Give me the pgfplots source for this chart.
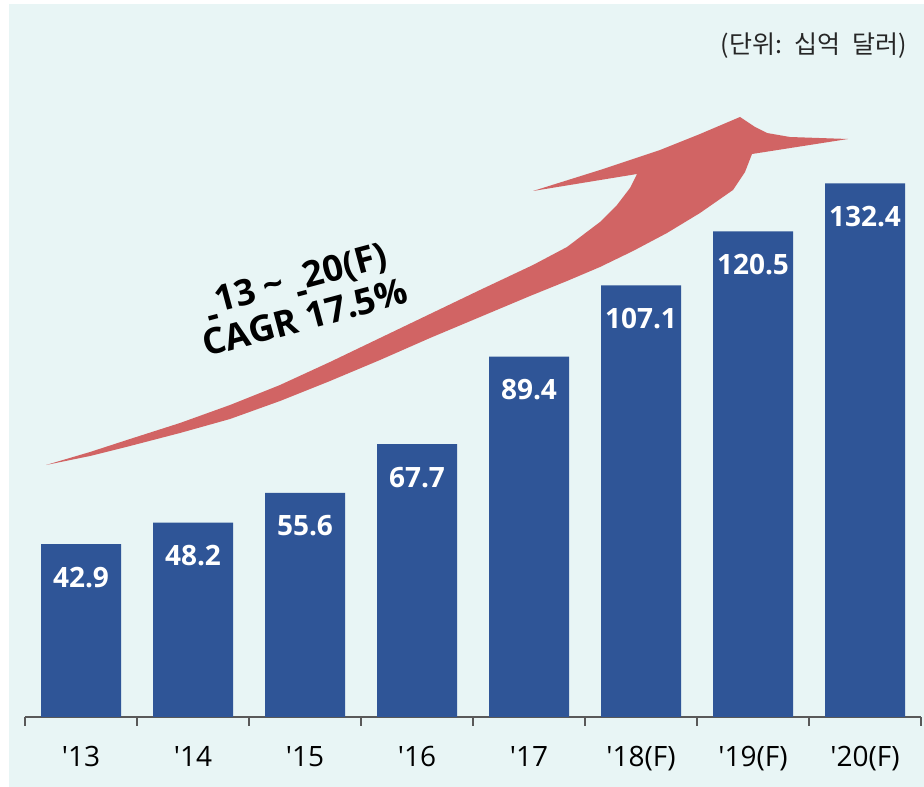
\documentclass[border=0pt]{standalone}
\usepackage{fontspec}
\setmainfont{Open Sans}
\newfontfamily\kr{Noto Sans CJK KR}
\usepackage{pgfplots}
\pgfplotsset{compat=1.18}
\definecolor{bg}{HTML}{E8F5F5}
\definecolor{barblue}{HTML}{2F5597}
\definecolor{arrowred}{HTML}{D16464}
\definecolor{axisgray}{HTML}{595959}
\begin{document}
\begin{tikzpicture}[x=1pt,y=1pt]
\path[use as bounding box] (0,0) rectangle (924,787);
\fill[white] (0,0) rectangle (924,787);
\fill[bg] (9,0) rectangle (924,783);
% overlay axis in pixel coordinates (arrow and texts)
\begin{axis}[at={(0pt,0pt)}, anchor=south west, scale only axis,
  width=924pt, height=787pt, xmin=0, xmax=924, ymin=0, ymax=787,
  y dir=reverse, hide axis, clip=false]
\addplot[fill=arrowred, draw=none] coordinates {
(46,465) (90,452) (130,439) (180,423) (230,405) (280,385) (330,362)
(380,338) (430,314) (480,290) (533,265) (567,247) (600,222) (617,205)
(630,188) (637,174) (533,191) (600,170) (660,150) (700,134) (740,117)
(755,127) (767,133) (790,137) (848,139) (752,154) (745,172) (733,190)
(700,213) (667,233) (633,251) (600,267) (567,281) (530,296) (480,317)
(430,338) (380,360) (330,381) (280,401) (230,419) (180,433) (130,446)
(90,456) (46,465)};
\node[anchor=east, font=\kr\fontsize{25}{28}\selectfont, text=black!85]
  at (axis cs:910,46) {(단위:\hspace{12pt}십억\hspace{12pt}달러)};
\node[rotate=15, align=center, font=\bfseries\fontsize{36}{40}\selectfont, inner sep=0pt]
  at (axis cs:300,298)
  {\raisebox{-0.38em}{-}13 \textasciitilde\ \raisebox{-0.38em}{-}20(F)\\CAGR 17.5\%};
\end{axis}
% main bar axis
\begin{axis}[at={(25pt,70pt)}, anchor=south west, scale only axis,
  width=896pt, height=717pt,
  xmin=-0.5, xmax=7.5, ymin=0, ymax=177.9,
  axis x line*=bottom, axis y line=none,
  axis line style={axisgray, line width=1.4pt},
  ybar, bar width=80pt,
  xtick={0,...,7},
  xticklabels={\textquotesingle13,\textquotesingle14,\textquotesingle15,\textquotesingle16,\textquotesingle17,\textquotesingle18(F),\textquotesingle19(F),\textquotesingle20(F)},
  major tick length=0pt,
  minor xtick={-0.5,0.5,...,7.5},
  minor tick length=9pt,
  tick align=outside,
  tick style={axisgray, line width=1.4pt},
  xticklabel style={font=\fontsize{28}{30}\selectfont, anchor=base, yshift=-50pt, text=black},
  /pgf/number format/assume math mode=true,
  /pgf/number format/fixed, /pgf/number format/precision=1,
  /pgf/number format/fixed zerofill,
  nodes near coords,
  nodes near coords style={font=\bfseries\fontsize{28}{30}\selectfont, text=white, anchor=base, yshift=-43pt},
  clip=false]
\addplot[fill=barblue, draw=none] coordinates {
(0,42.9) (1,48.2) (2,55.6) (3,67.7) (4,89.4) (5,107.1) (6,120.5) (7,132.4)};
\end{axis}
\end{tikzpicture}
\end{document}
